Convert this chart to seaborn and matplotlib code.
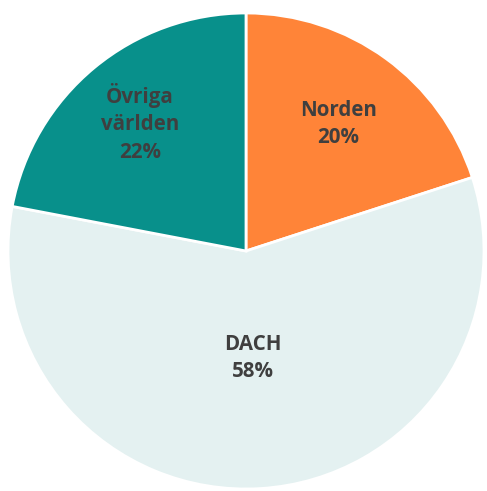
import numpy as np
import matplotlib
matplotlib.use("Agg")
import matplotlib.pyplot as plt
import seaborn as sns

# Data
regions = ["Norden", "DACH", "Övriga\nvärlden"]
shares = [20, 58, 22]
label_radius = [0.66, 0.45, 0.70]

sns.set_theme(style="white")
plt.rcParams['font.family'] = ['Open Sans', 'DejaVu Sans']
colors = sns.color_palette(["#FF8438", "#E4F1F1", "#08908B"])

fig = plt.figure(figsize=(4.87, 4.91), dpi=100)
ax = fig.add_axes([8 / 487, 2 / 491, 476 / 487, 476 / 491])

wedges, _ = ax.pie(shares, colors=colors, startangle=90, counterclock=False,
                   wedgeprops=dict(edgecolor="white", linewidth=2))

# Labels inside each slice
for w, name, val, r in zip(wedges, regions, shares, label_radius):
    ang = np.deg2rad((w.theta1 + w.theta2) / 2)
    ax.text(r * np.cos(ang), r * np.sin(ang), f"{name}\n{val}%",
            ha="center", va="center", fontsize=14.8, fontweight="bold",
            color="#3F3F3F", linespacing=1.4)

ax.set_xlim(-1, 1)
ax.set_ylim(-1, 1)
ax.set_aspect("equal")
ax.axis("off")

fig.savefig("out.png", dpi=100)
